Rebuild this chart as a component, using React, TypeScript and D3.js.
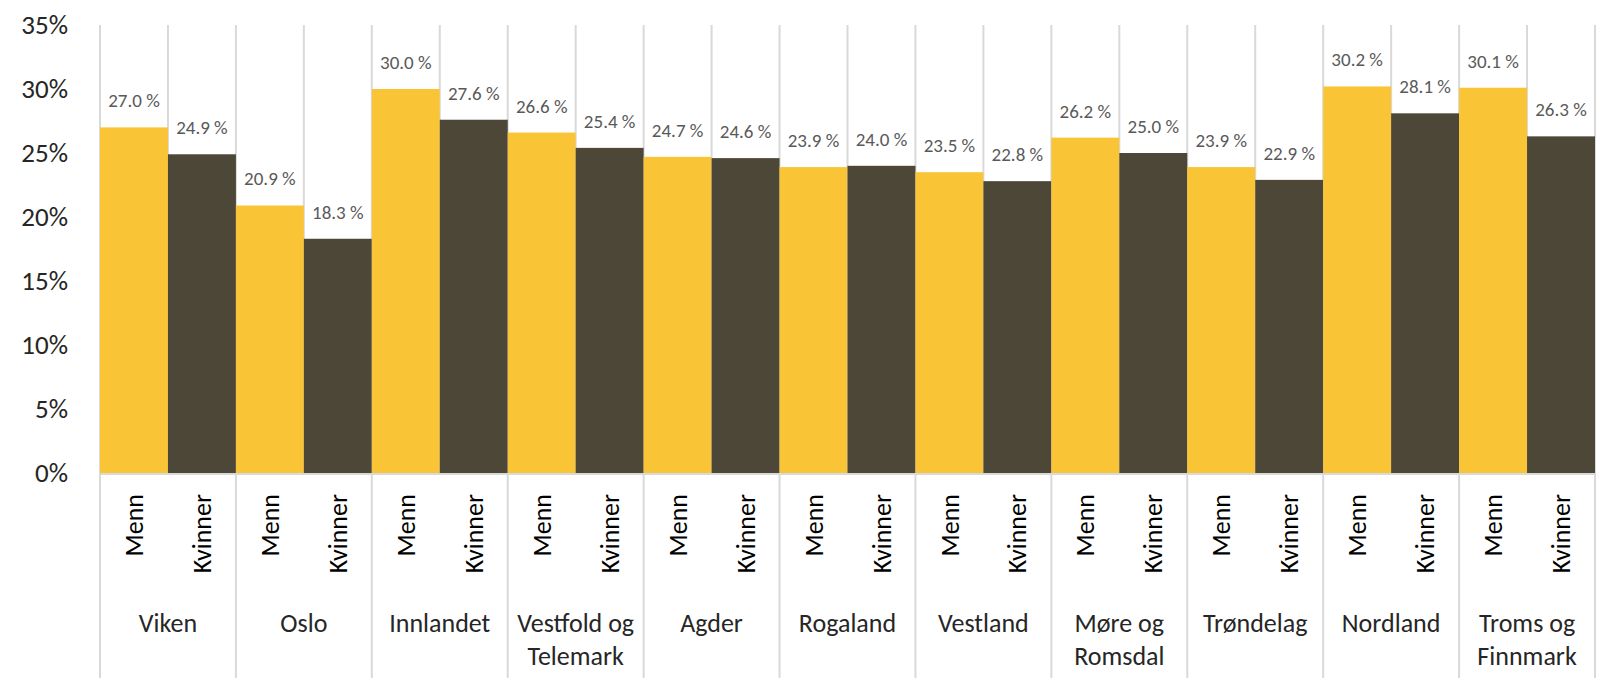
import * as React from "react";
import * as d3 from "d3";

const regions = ["Viken", "Oslo", "Innlandet", "Vestfold og Telemark", "Agder", "Rogaland", "Vestland", "Møre og Romsdal", "Trøndelag", "Nordland", "Troms og Finnmark"];
const sexes = ["Menn", "Kvinner"];
const menn = [27.0, 20.9, 30.0, 26.6, 24.7, 23.9, 23.5, 26.2, 23.9, 30.2, 30.1];
const kvinner = [24.9, 18.3, 27.6, 25.4, 24.6, 24.0, 22.8, 25.0, 22.9, 28.1, 26.3];
const yTicks = [0, 5, 10, 15, 20, 25, 30, 35];

const W = 1601, H = 678;
const FONT = "Carlito, Lato, sans-serif";
const colors = ["#F9C536", "#4D4738"];

export default function App() {
    const ref = React.useRef<SVGSVGElement>(null);

    React.useEffect(() => {
        const svg = d3.select(ref.current);
        svg.selectAll("*").remove();

        const left = 100, right = 1595, top = 25, bottom = 473;

        const x0 = d3.scaleBand().domain(regions).range([left, right]).padding(0);
        const x1 = d3.scaleBand().domain(sexes).range([0, x0.bandwidth()]).padding(0);
        const y = d3.scaleLinear().domain([0, 35]).range([bottom, top]);

        const rows = regions.map((r, i) => ({ region: r, values: [menn[i], kvinner[i]] }));

        // vertical lines at every bar edge in the plot area
        const edges: number[] = [];
        regions.forEach(r => {
            edges.push(x0(r));
            edges.push(x0(r) + x1("Kvinner"));
        });
        edges.push(right);
        svg.append("g").selectAll("line").data(edges).join("line")
            .attr("x1", d => d).attr("x2", d => d)
            .attr("y1", top).attr("y2", bottom)
            .attr("stroke", "#D9D9D9").attr("stroke-width", 2);

        // group lines in the label area
        const groupEdges = regions.map(r => x0(r)).concat([right]);
        svg.append("g").selectAll("line").data(groupEdges).join("line")
            .attr("x1", d => d).attr("x2", d => d)
            .attr("y1", bottom).attr("y2", H)
            .attr("stroke", "#D9D9D9").attr("stroke-width", 2);

        svg.append("line")
            .attr("x1", left).attr("x2", right)
            .attr("y1", bottom + 1).attr("y2", bottom + 1)
            .attr("stroke", "#D9D9D9").attr("stroke-width", 2);

        // y axis labels
        svg.append("g").selectAll("text").data(yTicks).join("text")
            .attr("x", 68).attr("y", d => y(d)).attr("dy", "0.35em")
            .attr("text-anchor", "end")
            .attr("font-family", FONT).attr("font-size", 27)
            .attr("fill", "#262626")
            .text(d => d + "%");

        const groups = svg.append("g").selectAll("g").data(rows).join("g")
            .attr("transform", d => `translate(${x0(d.region)},0)`);

        groups.selectAll("rect").data(d => d.values).join("rect")
            .attr("x", (d, i) => x1(sexes[i]))
            .attr("y", d => y(d))
            .attr("width", x1.bandwidth())
            .attr("height", d => bottom - y(d))
            .attr("fill", (d, i) => colors[i]);

        groups.selectAll("text.val").data(d => d.values).join("text")
            .attr("class", "val")
            .attr("x", (d, i) => x1(sexes[i]) + x1.bandwidth() / 2)
            .attr("y", d => y(d) - 20)
            .attr("text-anchor", "middle")
            .attr("font-family", FONT).attr("font-size", 19)
            .attr("fill", "#595959")
            .text(d => d.toFixed(1) + " %");

        groups.selectAll("text.sex").data(sexes).join("text")
            .attr("class", "sex")
            .attr("transform", d => `translate(${x1(d) + x1.bandwidth() / 2},494) rotate(-90)`)
            .attr("dy", "0.35em")
            .attr("text-anchor", "end")
            .attr("font-family", FONT).attr("font-size", 26)
            .attr("fill", "#000")
            .text(d => d);

        groups.append("text")
            .attr("x", x0.bandwidth() / 2)
            .attr("y", 632)
            .attr("text-anchor", "middle")
            .attr("font-family", FONT).attr("font-size", 26)
            .attr("fill", "#262626")
            .selectAll("tspan").data(d => d.region.split(/(?<= og) /)).join("tspan")
            .attr("x", x0.bandwidth() / 2)
            .attr("dy", (d, i) => i === 0 ? 0 : 33)
            .text(d => d);
    }, []);

    return <svg ref={ref} width={W} height={H} style={{ position: "absolute", left: 0, top: 0, background: "#fff" }}></svg>;
}
